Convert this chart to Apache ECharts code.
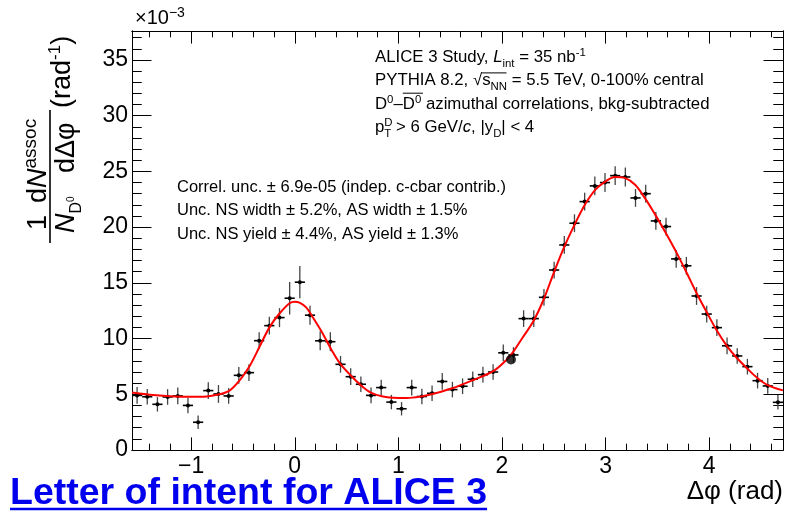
<!DOCTYPE html>
<html>
<head>
<meta charset="utf-8">
<script src="https://cdn.jsdelivr.net/npm/echarts@6.0.0/dist/echarts.min.js"></script>
<style>
  html, body { margin: 0; padding: 0; background: #fff; }
  #main { width: 788px; height: 516px; }
</style>
</head>
<body>
<div id="main"></div>
<script>
// per-bin yield, in units of 1e-3 rad^-1 (64 bins over [-pi/2, 3pi/2])
const yields = [4.9, 4.78, 4.1, 4.76, 4.85, 4.0, 2.49, 5.33, 5.03, 4.85,
  6.7, 6.94, 9.81, 11.16, 11.88, 13.62, 15.06, 12.1, 9.8, 9.72,
  7.69, 6.58, 5.9, 4.9, 5.6, 4.3, 3.7, 5.6, 4.8, 5.09,
  6.15, 5.42, 5.72, 6.35, 6.76, 7.0, 8.72, 8.53, 11.79, 11.79,
  13.7, 16.15, 18.4, 20.35, 22.29, 23.7, 24.0, 24.62, 24.5, 22.62,
  23.0, 20.56, 20.05, 17.15, 16.53, 13.82, 12.2, 10.98, 9.35, 8.44,
  7.48, 6.22, 5.75, 4.28];
const errors = [0.75, 0.7, 0.65, 0.7, 0.75, 0.7, 0.6, 0.75, 0.8, 0.7,
  0.75, 0.75, 0.75, 0.8, 0.85, 1.45, 1.45, 0.85, 0.85, 0.85,
  0.75, 0.75, 0.7, 0.7, 0.7, 0.65, 0.6, 0.7, 0.7, 0.7,
  0.75, 0.7, 0.7, 0.7, 0.7, 0.7, 0.75, 0.7, 0.75, 0.75,
  0.75, 0.75, 0.8, 0.8, 0.8, 0.85, 0.85, 0.85, 0.85, 0.8,
  0.8, 0.8, 0.8, 0.8, 0.8, 0.8, 0.75, 0.75, 0.75, 0.7,
  0.7, 0.7, 0.7, 0.65];

// fit curve
const fitX = [-1.571, -1.4, -1.2, -1.0, -0.85, -0.75, -0.63, -0.53, -0.435, -0.34,
  -0.24, -0.145, -0.05, 0.0, 0.05, 0.11, 0.16, 0.26, 0.355, 0.44,
  0.55, 0.64, 0.73, 0.84, 0.95, 1.08, 1.23, 1.34, 1.52, 1.72,
  1.92, 2.05, 2.11, 2.2, 2.3, 2.4, 2.5, 2.6, 2.7, 2.8,
  2.9, 3.0, 3.09, 3.19, 3.285, 3.38, 3.48, 3.58, 3.68, 3.78,
  3.88, 3.98, 4.075, 4.17, 4.27, 4.365, 4.46, 4.56, 4.712];
const fitY = [5.15, 4.95, 4.82, 4.77, 4.8, 4.95, 5.33, 6.28, 7.54, 9.27,
  11.07, 12.27, 13.17, 13.3, 13.2, 12.8, 12.12, 10.62, 8.98, 7.72,
  6.6, 5.8, 5.18, 4.82, 4.68, 4.66, 4.82, 5.05, 5.54, 6.28,
  7.1, 8.15, 8.83, 10.1, 11.5, 13.46, 15.9, 18.2, 20.2, 22.0,
  23.34, 24.1, 24.5, 24.4, 23.8, 22.6, 21.1, 19.5, 17.8, 15.95,
  14.05, 12.3, 10.7, 9.35, 8.23, 7.33, 6.5, 5.85, 5.35];

const strayDot = [[2.087, 8.12]];

const xMajor = [-1, 0, 1, 2, 3, 4];
const xMinor = [-1.4, -1.2, -0.8, -0.6, -0.4, -0.2, 0.2, 0.4, 0.6, 0.8, 1.2, 1.4, 1.6, 1.8,
  2.2, 2.4, 2.6, 2.8, 3.2, 3.4, 3.6, 3.8, 4.2, 4.4, 4.6];
const yMajor = [0, 5, 10, 15, 20, 25, 30, 35];
const yMinor = [1, 2, 3, 4, 6, 7, 8, 9, 11, 12, 13, 14, 16, 17, 18, 19, 21, 22, 23, 24,
  26, 27, 28, 29, 31, 32, 33, 34, 36, 37];

const X_MIN = -Math.PI / 2;
const X_MAX = 1.5 * Math.PI;
const Y_MAX = 37.6;
const HALF_BIN = Math.PI / 64;
const FONT = '"Liberation Sans", Arial, Helvetica, sans-serif';

const chart = echarts.init(document.getElementById('main'));

const mctx = document.createElement('canvas').getContext('2d');
function fnt(size, it, bold) {
  return (it ? 'italic ' : '') + (bold ? 'bold ' : '') + size + 'px ' + FONT;
}
function textW(t, f) {
  mctx.font = f;
  return mctx.measureText(t).width;
}

// lays out a run of text pieces (with sub/superscripts) from a baseline
function row(x, base, size, parts, color) {
  const out = [];
  let cx = x;
  const col = color || '#000';
  parts.forEach(function (p) {
    if (typeof p === 'string') p = { t: p };
    let s = p.s || size;
    let dy = 0;
    if (p.sub) { s = p.s || size * 0.68; dy = size * 0.25; }
    if (p.sup) { s = p.s || size * 0.68; dy = -size * 0.4; }
    if (p.dy != null) dy = p.dy;
    const f = fnt(s, p.it, p.bold);
    const w = textW(p.t, f);
    const b = base + dy;
    out.push({
      type: 'text', x: cx, y: b - 0.31 * s, silent: true,
      style: { text: p.t, font: f, fill: col, align: 'left', verticalAlign: 'middle' }
    });
    if (p.over) {
      const oy = b - (p.oy || 0.86) * s;
      out.push({
        type: 'line', silent: true,
        shape: { x1: cx, y1: oy, x2: cx + w + (p.ow || 0), y2: oy },
        style: { stroke: col, lineWidth: 1 }
      });
    }
    if (!p.stack) cx += w;
  });
  return out;
}

function axisX(pos, ticks, len, withLabels) {
  return {
    type: 'value', position: pos, min: X_MIN, max: X_MAX,
    axisLine: { show: true, onZero: false, lineStyle: { color: '#000', width: 1 } },
    axisTick: { show: true, inside: true, length: len, customValues: ticks,
      lineStyle: { color: '#000', width: 1 } },
    axisLabel: withLabels ? {
      show: true, customValues: ticks, margin: 5, color: '#000', fontSize: 23, fontFamily: FONT,
      formatter: function (v) { return String(v).replace('-', '\u2212'); }
    } : { show: false },
    splitLine: { show: false }
  };
}
function axisY(pos, ticks, len, withLabels) {
  return {
    type: 'value', position: pos, min: 0, max: Y_MAX,
    axisLine: { show: true, onZero: false, lineStyle: { color: '#000', width: 1 } },
    axisTick: { show: true, inside: true, length: len, customValues: ticks,
      lineStyle: { color: '#000', width: 1 } },
    axisLabel: withLabels ? {
      show: true, customValues: ticks, margin: 4, color: '#000', fontSize: 23, fontFamily: FONT
    } : { show: false },
    splitLine: { show: false }
  };
}

function renderPoint(params, api) {
  const x = api.value(0), y = api.value(1), e = api.value(2);
  const lo = api.coord([x, y - e]);
  const hi = api.coord([x, y + e]);
  const l = api.coord([x - HALF_BIN, y]);
  const r = api.coord([x + HALF_BIN, y]);
  const c = api.coord([x, y]);
  return {
    type: 'group',
    children: [
      { type: 'line', shape: { x1: lo[0], y1: lo[1], x2: hi[0], y2: hi[1] },
        style: { stroke: '#444', lineWidth: 1.3 } },
      { type: 'line', shape: { x1: l[0], y1: l[1], x2: r[0], y2: r[1] },
        style: { stroke: '#000', lineWidth: 1.6 } },
      { type: 'circle', shape: { cx: c[0], cy: c[1], r: 2 }, style: { fill: '#000' } }
    ]
  };
}

const points = yields.map(function (v, i) {
  return [X_MIN + (i + 0.5) * Math.PI / 32, v, errors[i]];
});

// y-axis title, built unrotated then turned 90 degrees
const yTitle = [].concat(
  [{ type: 'line', silent: true, shape: { x1: 0, y1: 0, x2: 133, y2: 0 }, style: { stroke: '#000', lineWidth: 1.6 } }],
  row(13, -3, 27, ['1']),
  row(40, -3, 27, ['d', { t: 'N', it: true }, { t: 'assoc', sup: true, s: 19 }]),
  row(10, 25, 27, [{ t: 'N', it: true }, { t: 'D', s: 16, dy: 7 }, { t: '0', s: 10, dy: -1 }]),
  row(70, 25, 27, ['d\u0394\u03c6']),
  row(135, 21, 27, ['(rad', { t: '-1', sup: true, s: 17 }, ')'])
);

const linkFont = fnt(37.5, false, true);
const linkW = textW('Letter of intent for ALICE 3', linkFont);
const xTitleFont = fnt(26);

const graphics = [].concat(
  [{ type: 'group', x: 50, y: 243, rotation: Math.PI / 2, children: yTitle }],
  row(135, 25, 20, ['\u00d710', { t: '\u22123', sup: true, s: 14 }]),
  row(375, 63, 16.8, ['ALICE 3 Study, ', { t: 'L', it: true }, { t: 'int', sub: true }, ' = 35 nb', { t: '-1', sup: true }]),
  row(375, 86, 16.8, ['PYTHIA 8.2, ', '\u221a', { t: 's', over: true, ow: 16, oy: 0.78 }, { t: 'NN', sub: true }, ' = 5.5 TeV, 0-100% central']),
  row(375, 110, 16.8, ['D', { t: '0', sup: true }, '\u2013', { t: 'D', over: true, ow: 8, oy: 1.0 }, { t: '0', sup: true }, ' azimuthal correlations, bkg-subtracted']),
  row(375, 133, 16.8, ['p', { t: 'D', sup: true, stack: true }, { t: 'T', sub: true }, ' > 6 GeV/', { t: 'c', it: true }, ', |y', { t: 'D', sub: true }, '| < 4']),
  row(177, 193, 16.5, ['Correl. unc. \u00b1 6.9e-05 (indep. c-cbar contrib.)']),
  row(177, 216, 16.5, ['Unc. NS width \u00b1 5.2%, AS width \u00b1 1.5%']),
  row(177, 240, 16.5, ['Unc. NS yield \u00b1 4.4%, AS yield \u00b1 1.3%']),
  [{
    type: 'text', x: 783, y: 500 - 0.31 * 26, silent: true,
    style: { text: '\u0394\u03c6 (rad)', font: xTitleFont, fill: '#000', align: 'right', verticalAlign: 'middle' }
  }],
  row(10, 505, 37.5, [{ t: 'Letter of intent for ALICE 3', bold: true }], '#0000ee'),
  [{ type: 'line', silent: true, shape: { x1: 10, y1: 509, x2: 10 + linkW, y2: 509 }, style: { stroke: '#0000ee', lineWidth: 2.5 } }]
);

const option = {
  animation: false,
  backgroundColor: '#fff',
  grid: { left: 132, right: 5, top: 31, bottom: 66, outerBoundsMode: 'none' },
  xAxis: [
    axisX('bottom', xMajor, 12.6, true),
    axisX('bottom', xMinor, 6.3, false),
    axisX('top', xMajor, 12.6, false),
    axisX('top', xMinor, 6.3, false)
  ],
  yAxis: [
    axisY('left', yMajor, 19.5, true),
    axisY('left', yMinor, 9.75, false),
    axisY('right', yMajor, 19.5, false),
    axisY('right', yMinor, 9.75, false)
  ],
  series: [
    {
      type: 'custom',
      data: points,
      encode: { x: 0, y: 1 },
      renderItem: renderPoint,
      z: 3
    },
    {
      type: 'line',
      data: fitX.map(function (x, i) { return [x, fitY[i]]; }),
      smooth: 0.35,
      symbol: 'none',
      lineStyle: { color: '#f00', width: 2 },
      z: 4
    },
    {
      type: 'scatter',
      data: strayDot,
      symbolSize: 10,
      itemStyle: { color: '#000' },
      z: 5
    }
  ],
  graphic: graphics
};

chart.setOption(option);
</script>
</body>
</html>
